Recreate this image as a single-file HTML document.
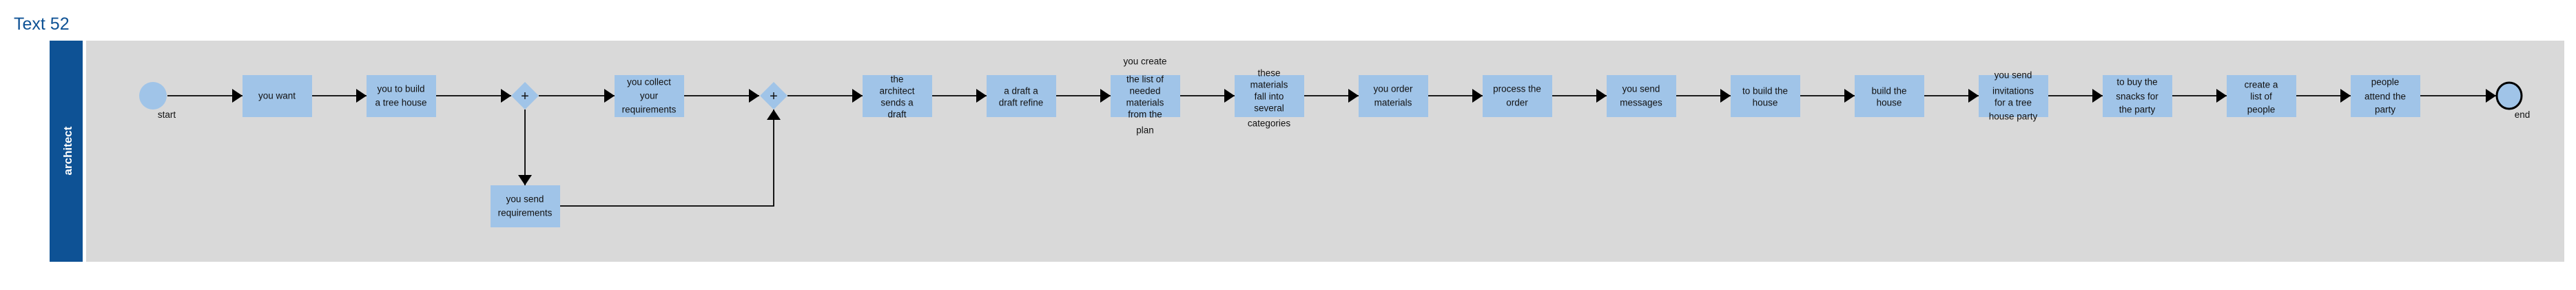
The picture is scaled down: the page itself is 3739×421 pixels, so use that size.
<!DOCTYPE html>
<html><head><meta charset="utf-8"><style>
html,body{margin:0;padding:0;background:#fff;width:3739px;height:421px;overflow:hidden}
svg{display:block}
text{font-family:"Liberation Sans",sans-serif;font-size:13.5px;fill:#111}
</style></head><body>
<svg width="3739" height="421" viewBox="0 0 3739 421" xmlns="http://www.w3.org/2000/svg">
<defs>
<marker id="a" markerWidth="15" markerHeight="20" refX="15" refY="10" orient="auto" markerUnits="userSpaceOnUse"><path d="M0,0 L15,10 L0,20 Z" fill="#000"/></marker>
</defs>
<text x="20" y="43" style="font-size:25px;fill:#0e5295">Text 52</text>
<rect x="72" y="59" width="48" height="321" fill="#0e5295"/>
<rect x="125" y="59" width="3597" height="321" fill="#d9d9d9"/>
<text transform="translate(104,219) rotate(-90)" text-anchor="middle" style="font-size:17px;font-weight:bold;fill:#fff">architect</text>
<g stroke="#000" stroke-width="1.8" fill="none">
<line x1="243" y1="139" x2="352" y2="139" marker-end="url(#a)"/>
<line x1="453" y1="139" x2="532" y2="139" marker-end="url(#a)"/>
<line x1="633" y1="139" x2="742" y2="139" marker-end="url(#a)"/>
<line x1="782" y1="139" x2="892" y2="139" marker-end="url(#a)"/>
<line x1="993" y1="139" x2="1102" y2="139" marker-end="url(#a)"/>
<line x1="1143" y1="139" x2="1252" y2="139" marker-end="url(#a)"/>
<line x1="762" y1="159" x2="762" y2="269" marker-end="url(#a)"/>
<polyline points="812,299 1123,299 1123,159" marker-end="url(#a)"/>
<line x1="1353" y1="139" x2="1432" y2="139" marker-end="url(#a)"/>
<line x1="1533" y1="139" x2="1612" y2="139" marker-end="url(#a)"/>
<line x1="1713" y1="139" x2="1792" y2="139" marker-end="url(#a)"/>
<line x1="1893" y1="139" x2="1972" y2="139" marker-end="url(#a)"/>
<line x1="2073" y1="139" x2="2152" y2="139" marker-end="url(#a)"/>
<line x1="2253" y1="139" x2="2332" y2="139" marker-end="url(#a)"/>
<line x1="2433" y1="139" x2="2512" y2="139" marker-end="url(#a)"/>
<line x1="2613" y1="139" x2="2692" y2="139" marker-end="url(#a)"/>
<line x1="2793" y1="139" x2="2872" y2="139" marker-end="url(#a)"/>
<line x1="2973" y1="139" x2="3052" y2="139" marker-end="url(#a)"/>
<line x1="3153" y1="139" x2="3232" y2="139" marker-end="url(#a)"/>
<line x1="3333" y1="139" x2="3412" y2="139" marker-end="url(#a)"/>
<line x1="3513" y1="139" x2="3623" y2="139" marker-end="url(#a)"/>
</g>
<ellipse cx="222" cy="139" rx="20" ry="20" fill="#a0c4e8"/>
<ellipse cx="3642" cy="139" rx="18" ry="19" fill="#a0c4e8" stroke="#000" stroke-width="3"/>
<text x="242" y="171" text-anchor="middle">start</text>
<text x="3661" y="171" text-anchor="middle">end</text>
<g fill="#a0c4e8">
<polygon points="762,119 782,139 762,159 742,139"/>
<polygon points="1123,119 1143,139 1123,159 1103,139"/>
<rect x="352" y="109" width="101" height="61"/>
<rect x="532" y="109" width="101" height="61"/>
<rect x="892" y="109" width="101" height="61"/>
<rect x="712" y="269" width="101" height="61"/>
<rect x="1252" y="109" width="101" height="61"/>
<rect x="1432" y="109" width="101" height="61"/>
<rect x="1612" y="109" width="101" height="61"/>
<rect x="1792" y="109" width="101" height="61"/>
<rect x="1972" y="109" width="101" height="61"/>
<rect x="2152" y="109" width="101" height="61"/>
<rect x="2332" y="109" width="101" height="61"/>
<rect x="2512" y="109" width="101" height="61"/>
<rect x="2692" y="109" width="101" height="61"/>
<rect x="2872" y="109" width="101" height="61"/>
<rect x="3052" y="109" width="101" height="61"/>
<rect x="3232" y="109" width="101" height="61"/>
<rect x="3412" y="109" width="101" height="61"/>
</g>
<g text-anchor="middle" dominant-baseline="central">
<text x="762" y="140" style="font-size:20px">+</text>
<text x="1123" y="140" style="font-size:20px">+</text>
<text x="402" y="139">you want</text>
<text x="582" y="129">you to build</text><text x="582" y="149">a tree house</text>
<text x="942" y="119">you collect</text><text x="942" y="139">your</text><text x="942" y="159">requirements</text>
<text x="762" y="289">you send</text><text x="762" y="309">requirements</text>
<text x="1302" y="115">the</text><text x="1302" y="132">architect</text><text x="1302" y="149">sends a</text><text x="1302" y="166">draft</text>
<text x="1482" y="132">a draft a</text><text x="1482" y="149">draft refine</text>
<text x="1662" y="89">you create</text><text x="1662" y="115">the list of</text><text x="1662" y="132">needed</text><text x="1662" y="149">materials</text><text x="1662" y="166">from the</text><text x="1662" y="189">plan</text>
<text x="1842" y="106">these</text><text x="1842" y="123">materials</text><text x="1842" y="140">fall into</text><text x="1842" y="157">several</text><text x="1842" y="179">categories</text>
<text x="2022" y="129">you order</text><text x="2022" y="149">materials</text>
<text x="2202" y="129">process the</text><text x="2202" y="149">order</text>
<text x="2382" y="129">you send</text><text x="2382" y="149">messages</text>
<text x="2562" y="132">to build the</text><text x="2562" y="149">house</text>
<text x="2742" y="132">build the</text><text x="2742" y="149">house</text>
<text x="2922" y="109">you send</text><text x="2922" y="132">invitations</text><text x="2922" y="149">for a tree</text><text x="2922" y="169">house party</text>
<text x="3102" y="119">to buy the</text><text x="3102" y="140">snacks for</text><text x="3102" y="159">the party</text>
<text x="3282" y="123">create a</text><text x="3282" y="140">list of</text><text x="3282" y="159">people</text>
<text x="3462" y="119">people</text><text x="3462" y="140">attend the</text><text x="3462" y="159">party</text>
</g>
</svg>
</body></html>
